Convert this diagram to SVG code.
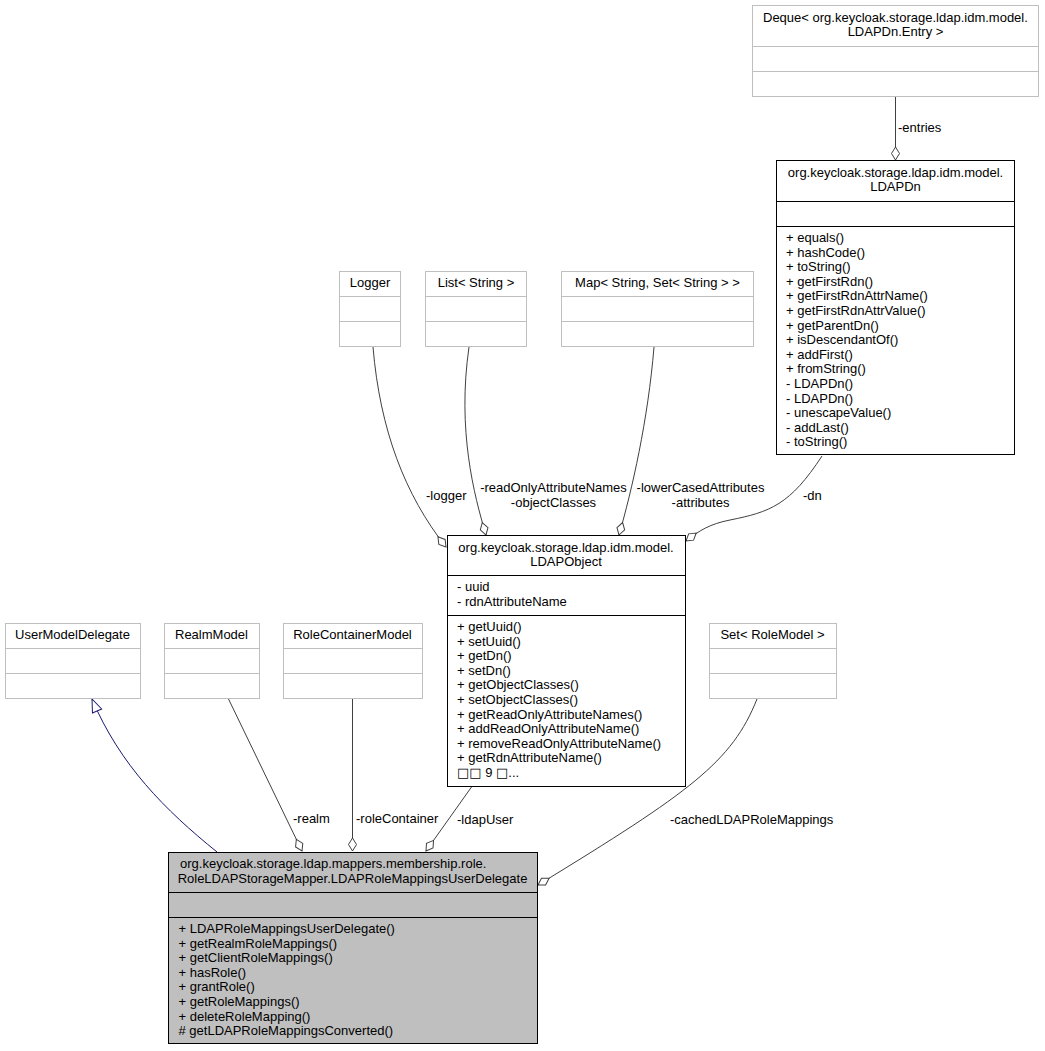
<svg xmlns="http://www.w3.org/2000/svg" width="1045" height="1051" viewBox="0 0 1045 1051">
<style>
text{font-family:"Liberation Sans",Arial,Helvetica,sans-serif;font-size:13px;fill:#000}
.c{text-anchor:middle}
.tofu{font-family:"DejaVu Sans","Liberation Sans",sans-serif}
.ext{fill:#fff;stroke:#bfbfbf;stroke-width:1}
.cls{fill:#fff;stroke:#000;stroke-width:1}
.main{fill:#bfbfbf;stroke:#000;stroke-width:1}
.edge{fill:none;stroke:#404040;stroke-width:1}
.inh{fill:none;stroke:#191970;stroke-width:1}
</style>
<defs>
<marker id="agg" viewBox="-14 -5 15 10" refX="0" refY="0" markerWidth="15" markerHeight="10" orient="auto" markerUnits="userSpaceOnUse" overflow="visible">
<path d="M0,0 L-6.5,-4 L-13,0 L-6.5,4 Z" fill="#fff" stroke="#404040" stroke-width="1"/>
</marker>
<marker id="gen" viewBox="-14 -6 15 12" refX="0" refY="0" markerWidth="15" markerHeight="12" orient="auto" markerUnits="userSpaceOnUse" overflow="visible">
<path d="M0,0 L-13,-5 L-13,5 Z" fill="#fff" stroke="#191970" stroke-width="1"/>
</marker>
</defs>

<g id="connectors">
<path class="edge" d="M895.5,97 L895.5,160" marker-end="url(#agg)"/>
<text x="898" y="132">-entries</text>
<path class="edge" d="M373,347 C380,430 405,495 446,547" marker-end="url(#agg)"/>
<text x="426" y="499.5">-logger</text>
<path class="edge" d="M469,347 C457,430 474,495 486,535" marker-end="url(#agg)"/>
<text class="c" x="553.5" y="492">-readOnlyAttributeNames</text>
<text class="c" x="553.5" y="507">-objectClasses</text>
<path class="edge" d="M654,347 C648,420 632,490 619,535" marker-end="url(#agg)"/>
<text class="c" x="700.5" y="492">-lowerCasedAttributes</text>
<text class="c" x="700.5" y="507">-attributes</text>
<path class="edge" d="M822,456 C790,505 770,512 730,520 C710,524 700,530 686,541" marker-end="url(#agg)"/>
<text x="803" y="500">-dn</text>
<path class="inh" d="M217,852 C165,810 120,765 92,699" marker-end="url(#gen)"/>
<path class="edge" d="M228.5,699 L302,851" marker-end="url(#agg)"/>
<text x="293" y="822.5">-realm</text>
<path class="edge" d="M352.5,699 L352.5,851" marker-end="url(#agg)"/>
<text x="356" y="822.5">-roleContainer</text>
<path class="edge" d="M471.5,787 L426,851" marker-end="url(#agg)"/>
<text x="457" y="823.5">-ldapUser</text>
<path class="edge" d="M757,699 C732,762 690,792 538,885" marker-end="url(#agg)"/>
<text x="670" y="823.5">-cachedLDAPRoleMappings</text>
</g>

<g id="node-deque">
<rect class="ext" x="752.5" y="5.5" width="286" height="91"/>
<path class="ext" d="M752.5,46.5 H1038.5 M752.5,71.5 H1038.5"/>
<text x="763" y="21.5">Deque&lt; org.keycloak.storage.ldap.idm.model.</text>
<text class="c" x="895.5" y="36">LDAPDn.Entry &gt;</text>
</g>

<g id="node-ldapdn">
<rect class="cls" x="776.5" y="160.5" width="238" height="294"/>
<path class="cls" d="M776.5,201.5 H1014.5 M776.5,226.5 H1014.5"/>
<text class="c" x="895.5" y="176.5">org.keycloak.storage.ldap.idm.model.</text>
<text class="c" x="895.5" y="191">LDAPDn</text>
<text x="786" y="242">
<tspan x="786" dy="0">+ equals()</tspan>
<tspan x="786" dy="14.6">+ hashCode()</tspan>
<tspan x="786" dy="14.6">+ toString()</tspan>
<tspan x="786" dy="14.6">+ getFirstRdn()</tspan>
<tspan x="786" dy="14.6">+ getFirstRdnAttrName()</tspan>
<tspan x="786" dy="14.6">+ getFirstRdnAttrValue()</tspan>
<tspan x="786" dy="14.6">+ getParentDn()</tspan>
<tspan x="786" dy="14.6">+ isDescendantOf()</tspan>
<tspan x="786" dy="14.6">+ addFirst()</tspan>
<tspan x="786" dy="14.6">+ fromString()</tspan>
<tspan x="786" dy="14.6">- LDAPDn()</tspan>
<tspan x="786" dy="14.6">- LDAPDn()</tspan>
<tspan x="786" dy="14.6">- unescapeValue()</tspan>
<tspan x="786" dy="14.6">- addLast()</tspan>
<tspan x="786" dy="14.6">- toString()</tspan>
</text>
</g>

<g id="node-logger">
<rect class="ext" x="339.5" y="271.5" width="61" height="75"/>
<path class="ext" d="M339.5,296.5 H400.5 M339.5,321.5 H400.5"/>
<text class="c" x="370" y="287">Logger</text>
</g>

<g id="node-list">
<rect class="ext" x="425.5" y="271.5" width="101" height="75"/>
<path class="ext" d="M425.5,296.5 H526.5 M425.5,321.5 H526.5"/>
<text class="c" x="476" y="287">List&lt; String &gt;</text>
</g>

<g id="node-map">
<rect class="ext" x="561.5" y="271.5" width="192" height="75"/>
<path class="ext" d="M561.5,296.5 H753.5 M561.5,321.5 H753.5"/>
<text class="c" x="657.5" y="287">Map&lt; String, Set&lt; String &gt; &gt;</text>
</g>

<g id="node-ldapobject">
<rect class="cls" x="447.5" y="535.5" width="238" height="251"/>
<path class="cls" d="M447.5,575.5 H685.5 M447.5,615.5 H685.5"/>
<text class="c" x="566" y="551.5">org.keycloak.storage.ldap.idm.model.</text>
<text class="c" x="566" y="566">LDAPObject</text>
<text x="457" y="591">
<tspan x="457" dy="0">- uuid</tspan>
<tspan x="457" dy="14.6">- rdnAttributeName</tspan>
</text>
<text x="457" y="631">
<tspan x="457" dy="0">+ getUuid()</tspan>
<tspan x="457" dy="14.6">+ setUuid()</tspan>
<tspan x="457" dy="14.6">+ getDn()</tspan>
<tspan x="457" dy="14.6">+ setDn()</tspan>
<tspan x="457" dy="14.6">+ getObjectClasses()</tspan>
<tspan x="457" dy="14.6">+ setObjectClasses()</tspan>
<tspan x="457" dy="14.6">+ getReadOnlyAttributeNames()</tspan>
<tspan x="457" dy="14.6">+ addReadOnlyAttributeName()</tspan>
<tspan x="457" dy="14.6">+ removeReadOnlyAttributeName()</tspan>
<tspan x="457" dy="14.6">+ getRdnAttributeName()</tspan>
</text>
<text x="457" y="777"><tspan class="tofu">□□</tspan> 9 <tspan class="tofu">□</tspan>...</text>
</g>

<g id="node-usermodeldelegate">
<rect class="ext" x="5.5" y="623.5" width="135" height="75"/>
<path class="ext" d="M5.5,648.5 H140.5 M5.5,673.5 H140.5"/>
<text class="c" x="72.5" y="639">UserModelDelegate</text>
</g>

<g id="node-realmmodel">
<rect class="ext" x="164.5" y="623.5" width="95" height="75"/>
<path class="ext" d="M164.5,648.5 H259.5 M164.5,673.5 H259.5"/>
<text class="c" x="211.5" y="639">RealmModel</text>
</g>

<g id="node-rolecontainermodel">
<rect class="ext" x="283.5" y="623.5" width="139" height="75"/>
<path class="ext" d="M283.5,648.5 H422.5 M283.5,673.5 H422.5"/>
<text class="c" x="352.5" y="639">RoleContainerModel</text>
</g>

<g id="node-setrolemodel">
<rect class="ext" x="709.5" y="623.5" width="127" height="75"/>
<path class="ext" d="M709.5,648.5 H836.5 M709.5,673.5 H836.5"/>
<text class="c" x="772.5" y="639">Set&lt; RoleModel &gt;</text>
</g>

<g id="node-ldaprolemappingsuserdelegate">
<rect class="main" x="168.5" y="852.5" width="369" height="191"/>
<path class="main" d="M168.5,892.5 H537.5 M168.5,917.5 H537.5"/>
<text x="180" y="868">org.keycloak.storage.ldap.mappers.membership.role.</text>
<text class="c" x="352.5" y="882.5">RoleLDAPStorageMapper.LDAPRoleMappingsUserDelegate</text>
<text x="178.5" y="933">
<tspan x="178.5" dy="0">+ LDAPRoleMappingsUserDelegate()</tspan>
<tspan x="178.5" dy="14.6">+ getRealmRoleMappings()</tspan>
<tspan x="178.5" dy="14.6">+ getClientRoleMappings()</tspan>
<tspan x="178.5" dy="14.6">+ hasRole()</tspan>
<tspan x="178.5" dy="14.6">+ grantRole()</tspan>
<tspan x="178.5" dy="14.6">+ getRoleMappings()</tspan>
<tspan x="178.5" dy="14.6">+ deleteRoleMapping()</tspan>
<tspan x="178.5" dy="14.6"># getLDAPRoleMappingsConverted()</tspan>
</text>
</g>
</svg>
